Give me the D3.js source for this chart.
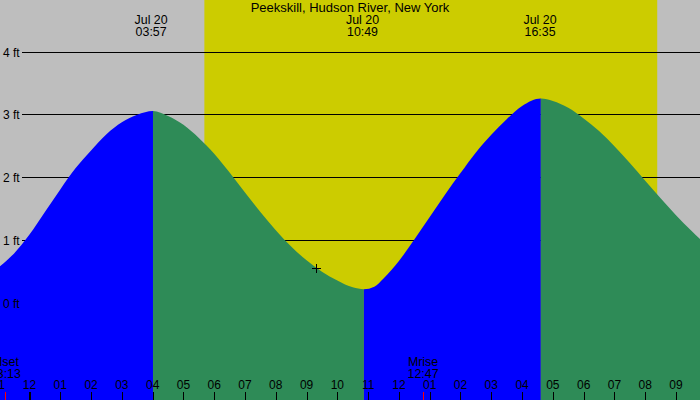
<!DOCTYPE html>
<html>
<head>
<meta charset="utf-8">
<script src="https://cdn.jsdelivr.net/npm/d3@7"></script>
<style>
  html, body { margin: 0; padding: 0; background: #fff; }
  svg { display: block; }
  text { font-family: "Liberation Sans", Arial, sans-serif; fill: #000; }
</style>
</head>
<body>
<svg id="chart" width="700" height="400"></svg>
<script>
// ---------------- data (hours after midnight Jul 20, feet) ----------------
const title = "Peekskill, Hudson River, New York";
const tideHours = [-1.0, -0.5, 0, 0.5, 1, 1.5, 2, 2.5, 3, 3.5, 4.01,
  4.5, 5, 5.5, 6, 6.5, 7, 7.5, 8, 8.5, 9, 9.5, 10, 10.5, 10.86,
  11.2, 11.5, 12, 12.5, 13, 13.5, 14, 14.5, 15, 15.5, 16, 16.61,
  17, 17.5, 18, 18.5, 19, 19.5, 20, 20.5, 21, 21.5, 21.8];
const tideFeet = [0.57, 0.79, 1.09, 1.45, 1.81, 2.15, 2.43, 2.69, 2.88, 3.00, 3.06,
  2.98, 2.84, 2.63, 2.38, 2.08, 1.76, 1.45, 1.16, 0.90, 0.68, 0.50, 0.36, 0.25, 0.22,
  0.26, 0.39, 0.67, 1.01, 1.37, 1.73, 2.07, 2.40, 2.68, 2.93, 3.14, 3.26,
  3.22, 3.11, 2.94, 2.74, 2.50, 2.23, 1.95, 1.67, 1.40, 1.15, 1.01];
// turning points of the curve (high, low, high), where the colour changes
const turnHours = [4.01, 10.86, 16.61];
// extreme labels (true times)
const labelHours = [3.95, 10.8167, 16.5833];
const labelDay = ["Jul 20", "Jul 20", "Jul 20"];
const labelTime = ["03:57", "10:49", "16:35"];
// daylight
const sunriseHour = 5.68, sunsetHour = 20.39;
// moon events
const moonHours = [-0.7833, 12.7833];
const moonNames = ["Mset", "Mrise"];
const moonTimes = ["23:13", "12:47"];
// y axis labels
const feetTicks = [0, 1, 2, 3, 4];
// hour ticks
const hourTicks = d3.range(-1, 22);
// current position marker
const markerHour = [9.31], markerFeet = [0.55];

// ---------------- drawing ----------------
const W = 700, H = 400;
const svg = d3.select("#chart");
const x = d3.scaleLinear().domain([0, 21]).range([29.5, 676]);
const y = d3.scaleLinear().domain([0, 4]).range([303, 52]);

svg.append("rect").attr("width", W).attr("height", H).attr("fill", "#bebebe");
svg.append("rect")
  .attr("x", x(sunriseHour)).attr("y", 0)
  .attr("width", x(sunsetHour) - x(sunriseHour)).attr("height", H)
  .attr("fill", "#cccc00");

// grid lines
svg.append("g").selectAll("line").data(feetTicks.filter(d => d > 0)).join("line")
  .attr("x1", 22).attr("x2", W)
  .attr("y1", d => Math.floor(y(d)) + 0.5).attr("y2", d => Math.floor(y(d)) + 0.5)
  .attr("stroke", "#000").attr("stroke-width", 1);

// tide area, one path clipped into rising (blue) / falling (green) parts
const pts = tideHours.map((h, i) => ({ h, v: tideFeet[i] }));
const area = d3.area().x(d => x(d.h)).y0(H).y1(d => y(d.v)).curve(d3.curveMonotoneX);
const bounds = [-2, ...turnHours, 23];
const segColors = ["#0000ff", "#2e8b57", "#0000ff", "#2e8b57"];
const defs = svg.append("defs");
for (let i = 0; i < bounds.length - 1; i++) {
  const x0 = Math.max(-10, x(bounds[i])), x1 = Math.min(W + 10, x(bounds[i + 1]));
  defs.append("clipPath").attr("id", "seg" + i)
    .append("rect").attr("x", x0).attr("y", 0).attr("width", x1 - x0).attr("height", H);
  svg.append("path").datum(pts).attr("d", area).attr("fill", segColors[i])
    .attr("clip-path", `url(#seg${i})`);
}

// y labels
svg.append("g").selectAll("text").data(feetTicks).join("text")
  .attr("x", 3).attr("y", d => y(d) + 4.5)
  .attr("font-size", "12px")
  .text(d => d + " ft");

// title
svg.append("text").attr("x", W / 2).attr("y", 12).attr("text-anchor", "middle")
  .attr("font-size", "13px").text(title);

// extreme labels
const ext = svg.append("g").selectAll("g").data(labelHours).join("g");
ext.append("text").attr("x", d => x(d)).attr("y", 24).attr("text-anchor", "middle")
  .attr("font-size", "12.4px").text((d, i) => labelDay[i]);
ext.append("text").attr("x", d => x(d)).attr("y", 36).attr("text-anchor", "middle")
  .attr("font-size", "12.4px").text((d, i) => labelTime[i]);

// hour ticks
const fmt = h => { const k = ((h % 12) + 12) % 12; return String(k === 0 ? 12 : k).padStart(2, "0"); };
svg.append("g").selectAll("line").data(hourTicks).join("line")
  .attr("x1", d => d === 0 ? Math.round(x(d)) : Math.round(x(d)) + 0.5)
  .attr("x2", d => d === 0 ? Math.round(x(d)) : Math.round(x(d)) + 0.5)
  .attr("y1", 392).attr("y2", H)
  .attr("stroke", "#000").attr("stroke-width", d => d === 0 ? 2 : 1);
svg.append("g").selectAll("text").data(hourTicks).join("text")
  .attr("x", d => x(d)).attr("y", 389).attr("text-anchor", "middle")
  .attr("font-size", "12px").text(fmt);

// moon events
svg.append("g").selectAll("line").data(moonHours).join("line")
  .attr("x1", d => Math.round(x(d)) + 0.5).attr("x2", d => Math.round(x(d)) + 0.5)
  .attr("y1", 392).attr("y2", H).attr("stroke", "#ff0000").attr("stroke-width", 1);
const moon = svg.append("g").selectAll("g").data(moonHours).join("g");
moon.append("text").attr("x", d => x(d)).attr("y", 366).attr("text-anchor", "middle")
  .attr("font-size", "12.4px").text((d, i) => moonNames[i]);
moon.append("text").attr("x", d => x(d)).attr("y", 377.5).attr("text-anchor", "middle")
  .attr("font-size", "12.4px").text((d, i) => moonTimes[i]);

// marker
const mk = svg.append("g");
markerHour.forEach((h, i) => {
  const cx = Math.round(x(h)) + 0.5, cy = Math.round(y(markerFeet[i])) + 0.5;
  mk.append("line").attr("x1", cx - 4.5).attr("x2", cx + 4.5).attr("y1", cy).attr("y2", cy).attr("stroke", "#000");
  mk.append("line").attr("x1", cx).attr("x2", cx).attr("y1", cy - 4.5).attr("y2", cy + 4.5).attr("stroke", "#000");
});
</script>
</body>
</html>
